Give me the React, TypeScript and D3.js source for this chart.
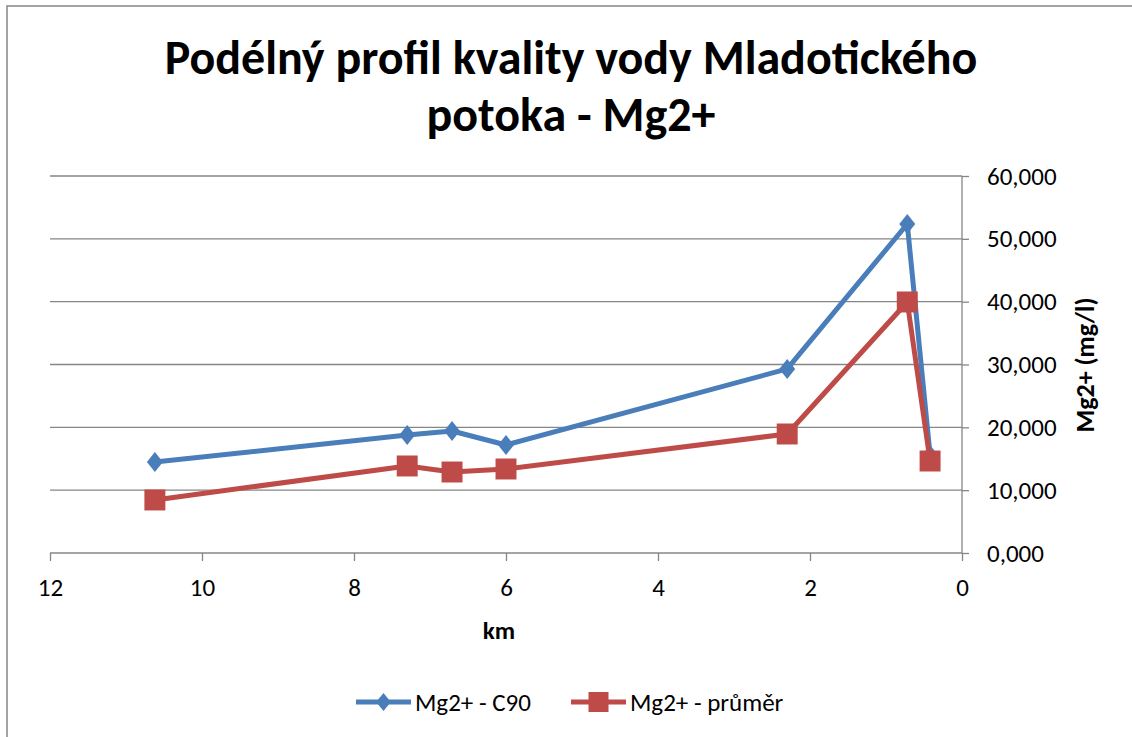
import React, { useEffect, useRef } from 'react';
import * as d3 from 'd3';

// km od ústí
const km = [10.62, 7.3, 6.71, 6.0, 2.3, 0.72, 0.42];
// Mg2+ (mg/l)
const c90 = [14.48, 18.78, 19.42, 17.19, 29.29, 52.36, 15.6];
const prumer = [8.44, 13.85, 12.89, 13.37, 18.94, 39.95, 14.64];
const xTicks = [12, 10, 8, 6, 4, 2, 0];
const yTicks = [0, 10, 20, 30, 40, 50, 60];

const seriesNames = ['Mg2+ - C90', 'Mg2+ - průměr'];
const colors = ['#4a7ebb', '#be4b48'];

const App: React.FC = () => {
    const ref = useRef<SVGSVGElement>(null);

    useEffect(() => {
        const svg = d3.select(ref.current);
        svg.selectAll('*').remove();

        const width = 1132;
        const height = 737;
        const left = 50, right = 962, top = 176, bottom = 553;
        const font = 'Carlito, Calibri, Lato, sans-serif';

        // rámeček grafu
        svg.append('rect').attr('x', 7).attr('y', 6).attr('width', width + 20).attr('height', height + 20)
            .attr('fill', '#fff').attr('stroke', '#868686').attr('stroke-width', 1.5);

        const x = d3.scaleLinear().domain([12, 0]).range([left, right]);
        const y = d3.scaleLinear().domain([0, 60]).range([bottom, top]);

        // mřížka
        svg.append('g').selectAll('line').data(yTicks.filter((d) => d > 0)).enter().append('line')
            .attr('x1', left).attr('x2', right).attr('y1', (d) => y(d)).attr('y2', (d) => y(d))
            .attr('stroke', '#868686').attr('stroke-width', 1.3);

        // osa x
        const gx = svg.append('g').attr('transform', `translate(0,${bottom})`)
            .call(d3.axisBottom(x).tickValues(xTicks).tickSize(8).tickPadding(17).tickFormat(d3.format('d')));
        gx.selectAll('line, path').attr('stroke', '#868686').attr('stroke-width', 1.3);
        gx.select('.domain').attr('d', `M${left},0H${right}`);
        gx.selectAll('text').style('font-family', font).style('font-size', '25px').attr('fill', '#000');

        // osa y (vpravo)
        const gy = svg.append('g').attr('transform', `translate(${right},0)`)
            .call(d3.axisRight(y).tickValues(yTicks).tickSize(7).tickPadding(18)
                .tickFormat((d) => d3.format('.3f')(+d).replace('.', ',')));
        gy.selectAll('line, path').attr('stroke', '#868686').attr('stroke-width', 1.3);
        gy.select('.domain').attr('d', `M0,${top}V${bottom}`);
        gy.selectAll('text').style('font-family', font).style('font-size', '25px').attr('fill', '#000');

        // řady
        const line = d3.line<number>().x((_, i) => x(km[i])).y((d) => y(d));
        [c90, prumer].forEach((values, s) => {
            svg.append('path').datum(values).attr('d', line).attr('fill', 'none')
                .attr('stroke', colors[s]).attr('stroke-width', 5).attr('stroke-linejoin', 'round');
            const sym = d3.symbol().type(s === 0 ? d3.symbolDiamond2 : d3.symbolSquare2).size(s === 0 ? 255 : 560);
            svg.append('g').selectAll('path').data(values).enter().append('path')
                .attr('d', sym)
                .attr('transform', (d, i) => `translate(${x(km[i])},${y(d)})${s === 0 ? ' scale(0.8,1)' : ''}`)
                .attr('fill', colors[s]);
        });

        // nadpis
        const title = svg.append('text').attr('text-anchor', 'middle').style('font-family', font)
            .style('font-size', '48px').style('font-weight', 'bold');
        title.append('tspan').attr('x', 571).attr('y', 74).text('Podélný profil kvality vody Mladotického');
        title.append('tspan').attr('x', 571).attr('y', 131).text('potoka - Mg2+');

        svg.append('text').attr('x', 499).attr('y', 639).attr('text-anchor', 'middle')
            .style('font-family', font).style('font-size', '25px').style('font-weight', 'bold').text('km');

        svg.append('text').attr('transform', 'translate(1094,365) rotate(-90)').attr('text-anchor', 'middle')
            .style('font-family', font).style('font-size', '26px').style('font-weight', 'bold').text('Mg2+ (mg/l)');

        // legenda
        const legendX = [356, 571];
        seriesNames.forEach((name, s) => {
            const g = svg.append('g').attr('transform', `translate(${legendX[s]},702)`);
            g.append('line').attr('x1', 0).attr('x2', 55).attr('stroke', colors[s]).attr('stroke-width', 5);
            const sym = d3.symbol().type(s === 0 ? d3.symbolDiamond2 : d3.symbolSquare2).size(s === 0 ? 206 : 510);
            g.append('path').attr('d', sym).attr('transform', `translate(27.5,0)${s === 0 ? ' scale(0.82,1)' : ''}`)
                .attr('fill', colors[s]);
            g.append('text').attr('x', 59).attr('y', 9).style('font-family', font).style('font-size', '25px')
                .text(name);
        });
    }, []);

    return <svg ref={ref} width={1132} height={737} style={{ position: 'absolute', left: 0, top: 0 }}></svg>;
};

export default App;
